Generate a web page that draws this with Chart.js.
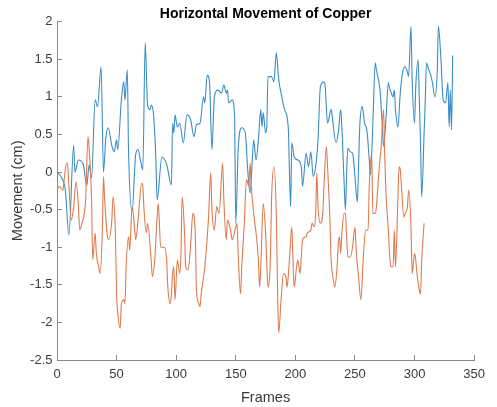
<!DOCTYPE html>
<html><head><meta charset="utf-8">
<script src="https://cdn.jsdelivr.net/npm/chart.js@4"></script>
<style>html,body{margin:0;padding:0;background:#fff;} #wrap{width:497px;height:407px;}</style>
</head><body><div id="wrap"><canvas id="c" width="497" height="407"></canvas></div>
<script>
const blueFrames = [0,4,7,10,14,15,18,22,25,27,29,32,34,37,39,41,43,46,48,50,51,54,56,57,59,60,63,66,68,70,72,74,76,78,79,81,83,84,88,92,96,97,98,99,101,103,106,109,112,115,117,120,123,124,126,128,130,132,135,138,140,142,143,144,147,149,150,152,155,158,160,162,164,165,167,169,171,172,173,175,176,177,180,182,184,186,188,191,194,196,197,199,202,205,206,209,211,213,215,217,219,221,224,225,227,230,231,234,236,238,239,241,242,243,244,246,248,250,252,253,254,256,257,258,260,262,263,265,267,268,271,273,274,276,278,279,280,282,283,284,286,288,290,292,294,295,297,298,300,301,303,304,305,306,308,309,310,312,313,315,317,319,320,322,324,326,328,329,330,331,332];
const blueValues = [0.00,-0.08,-0.24,-0.84,0.36,0.00,0.16,0.10,-0.18,0.10,-0.08,0.96,0.87,1.40,0.00,0.46,0.59,0.35,0.27,0.43,0.30,0.96,1.20,0.96,1.36,0.30,-0.53,0.23,0.30,0.16,0.03,1.72,0.89,0.83,0.89,0.76,0.16,-0.37,0.20,0.10,-0.17,0.65,0.52,0.76,0.60,0.65,0.39,0.76,0.70,0.47,0.63,0.65,1.00,0.92,1.29,1.19,0.30,1.00,1.09,1.05,1.16,1.05,1.09,0.92,0.96,0.73,-0.68,0.30,0.59,0.52,0.03,-0.28,0.20,0.43,0.16,0.43,0.83,0.60,0.79,0.52,0.60,1.27,1.27,1.20,1.59,1.23,1.05,0.83,0.60,-0.46,0.39,0.20,0.16,0.07,-0.19,0.25,0.07,0.27,-0.06,0.07,0.43,1.14,1.20,1.14,0.65,0.83,0.73,0.39,0.52,0.83,0.60,-0.19,-0.50,-0.01,0.32,0.27,0.25,-0.06,-0.40,0.07,0.60,0.87,0.79,0.65,0.56,0.16,-0.04,0.65,1.45,1.36,1.09,0.60,0.34,0.70,1.19,1.12,1.07,1.00,1.09,0.83,0.60,1.05,1.33,1.40,1.33,1.27,1.94,1.23,0.65,1.14,1.49,0.96,0.39,-0.33,0.52,0.96,1.45,1.36,1.32,1.19,1.00,1.32,1.94,1.54,0.96,0.92,1.19,0.60,1.09,0.56,1.55];

const orangeFrames = [0,2,5,6,8,9,10,12,14,16,18,19,21,24,26,27,29,30,32,33,35,36,38,39,40,42,43,46,47,49,50,51,53,54,56,57,58,60,61,63,65,66,68,71,72,73,75,76,79,80,82,84,85,87,88,90,92,93,95,96,97,98,99,101,103,104,105,107,108,110,112,114,116,117,119,120,121,124,127,129,130,132,134,136,139,140,142,143,145,146,147,150,151,152,154,155,157,159,161,162,163,165,167,169,170,171,173,175,176,177,179,180,182,184,185,186,188,190,192,193,194,195,197,198,199,201,202,204,205,206,209,210,213,214,216,217,218,219,221,223,224,226,227,229,230,231,232,233,235,236,237,238,239,241,242,243,244,246,248,250,251,253,255,257,259,261,262,264,265,267,268,270,272,274,275,276,278,279,280,282,283,284,286,287,288,289,291,292,294,295,297,298,300,301,302,304,305,306,308];
const orangeValues = [-0.24,-0.19,-0.24,-0.10,0.12,0.07,-0.19,-0.64,-0.46,-0.13,-0.46,-0.77,-0.68,-0.37,0.47,0.30,-0.37,-1.17,-0.81,-1.08,-1.26,-1.35,-0.81,-0.06,-0.37,-0.81,-0.90,-0.64,-0.33,-0.81,-1.62,-1.88,-2.08,-1.75,-1.70,-1.75,-1.26,-0.86,-1.04,-0.46,-0.73,-0.90,-0.64,-0.15,-0.19,-0.50,-0.81,-0.68,-1.17,-1.39,-1.17,-0.60,-0.42,-1.00,-1.00,-1.00,-1.17,-1.53,-1.75,-1.62,-1.35,-1.26,-1.70,-1.17,-1.35,-1.08,-0.33,-0.81,-1.26,-1.30,-1.00,-0.55,-0.81,-1.57,-1.75,-1.79,-1.62,-1.26,-0.64,-0.01,-0.50,-0.77,-0.46,-0.55,0.12,-0.37,-0.90,-0.64,-0.73,-0.81,-0.90,-0.73,-0.68,-1.08,-1.62,-1.26,-0.73,-0.10,-0.19,0.12,-0.19,-0.55,-0.81,-1.17,-1.53,-1.26,-0.42,-0.81,-1.22,-1.53,-1.17,-0.37,0.07,-0.55,-1.53,-2.14,-1.70,-1.35,-1.39,-1.53,-1.39,-1.17,-0.73,-1.17,-1.53,-1.26,-1.17,-1.35,-1.13,-0.90,-0.86,-0.81,-0.77,-0.68,-0.73,-0.55,-0.01,-0.46,-0.68,-0.55,-0.19,0.34,0.07,-0.64,-1.17,-1.35,-1.44,-1.53,-1.26,-0.95,-0.86,-1.08,-0.81,-0.55,-0.55,-0.86,-1.13,-1.13,-1.00,-0.73,-1.04,-1.39,-1.70,-1.13,-0.77,-0.77,-0.19,0.25,-0.55,-0.55,-0.46,-0.01,0.34,0.83,0.20,-0.28,-0.77,-1.08,-1.26,-1.26,-0.77,-1.26,-0.37,0.07,0.03,-0.19,-0.60,-0.55,-0.46,-0.24,-0.73,-1.35,-1.08,-1.17,-1.35,-1.57,-1.62,-1.17,-0.68];

const xTicks = [0,50,100,150,200,250,300,350];
const xTickLabels = ['0','50','100','150','200','250','300','350'];
const yTicks = [-2.5,-2,-1.5,-1,-0.5,0,0.5,1,1.5,2];
const yTickLabels = ['-2.5','-2','-1.5','-1','-0.5','0','0.5','1','1.5','2'];

const FONT = "'Liberation Sans', Arial, Helvetica, sans-serif";
const AXIS = '#8a8a8a';
const TEXT = '#3a3a3a';

function pairs(fr, vals) { return fr.map((f, i) => ({x: f, y: vals[i]})); }

new Chart(document.getElementById('c'), {
  type: 'line',
  data: {
    datasets: [
      { label: 'orange', data: pairs(orangeFrames, orangeValues), borderColor: '#e07a4e', borderWidth: 1.1, pointRadius: 0, fill: false, cubicInterpolationMode: 'monotone', order: 1 },
      { label: 'blue', data: pairs(blueFrames, blueValues), borderColor: '#3a8dc6', borderWidth: 1.1, pointRadius: 0, fill: false, cubicInterpolationMode: 'monotone', order: 2 }
    ]
  },
  options: {
    responsive: false, animation: false, devicePixelRatio: 1,
    layout: { padding: { left: 0, right: 14, top: 0, bottom: 0 } },
    plugins: {
      legend: { display: false },
      tooltip: { enabled: false },
      title: { display: true, text: 'Horizontal Movement of Copper', fullSize: false, color: '#000',
        font: { family: FONT, size: 14, weight: 'bold', lineHeight: 1.05 }, padding: { top: 7, bottom: 0 } }
    },
    scales: {
      x: {
        type: 'linear', min: 0, max: 350,
        afterBuildTicks: s => { s.ticks = xTicks.map(v => ({ value: v })); },
        afterFit: s => { s.height = 47; },
        grid: { drawOnChartArea: false, drawTicks: true, tickLength: -5, color: AXIS, lineWidth: 1 },
        border: { display: true, color: AXIS, width: 1 },
        ticks: { color: TEXT, font: { family: FONT, size: 13 }, padding: 12, maxRotation: 0, autoSkip: false,
          callback: v => xTickLabels[xTicks.indexOf(v)] },
        title: { display: true, text: 'Frames', color: TEXT, font: { family: FONT, size: 14.5 }, padding: { top: 3, bottom: 0 } }
      },
      y: {
        type: 'linear', min: -2.5, max: 2,
        afterBuildTicks: s => { s.ticks = yTicks.map(v => ({ value: v })); },
        afterFit: s => { s.width = 57; },
        grid: { drawOnChartArea: false, drawTicks: true, tickLength: -5, color: AXIS, lineWidth: 1 },
        border: { display: true, color: AXIS, width: 1 },
        ticks: { color: TEXT, font: { family: FONT, size: 13 }, padding: 9.5, autoSkip: false,
          callback: v => yTickLabels[yTicks.indexOf(v)] },
        title: { display: true, text: 'Movement (cm)', color: TEXT, font: { family: FONT, size: 14.5 }, padding: { top: 9, bottom: 0 } }
      }
    }
  }
});
</script></body></html>
